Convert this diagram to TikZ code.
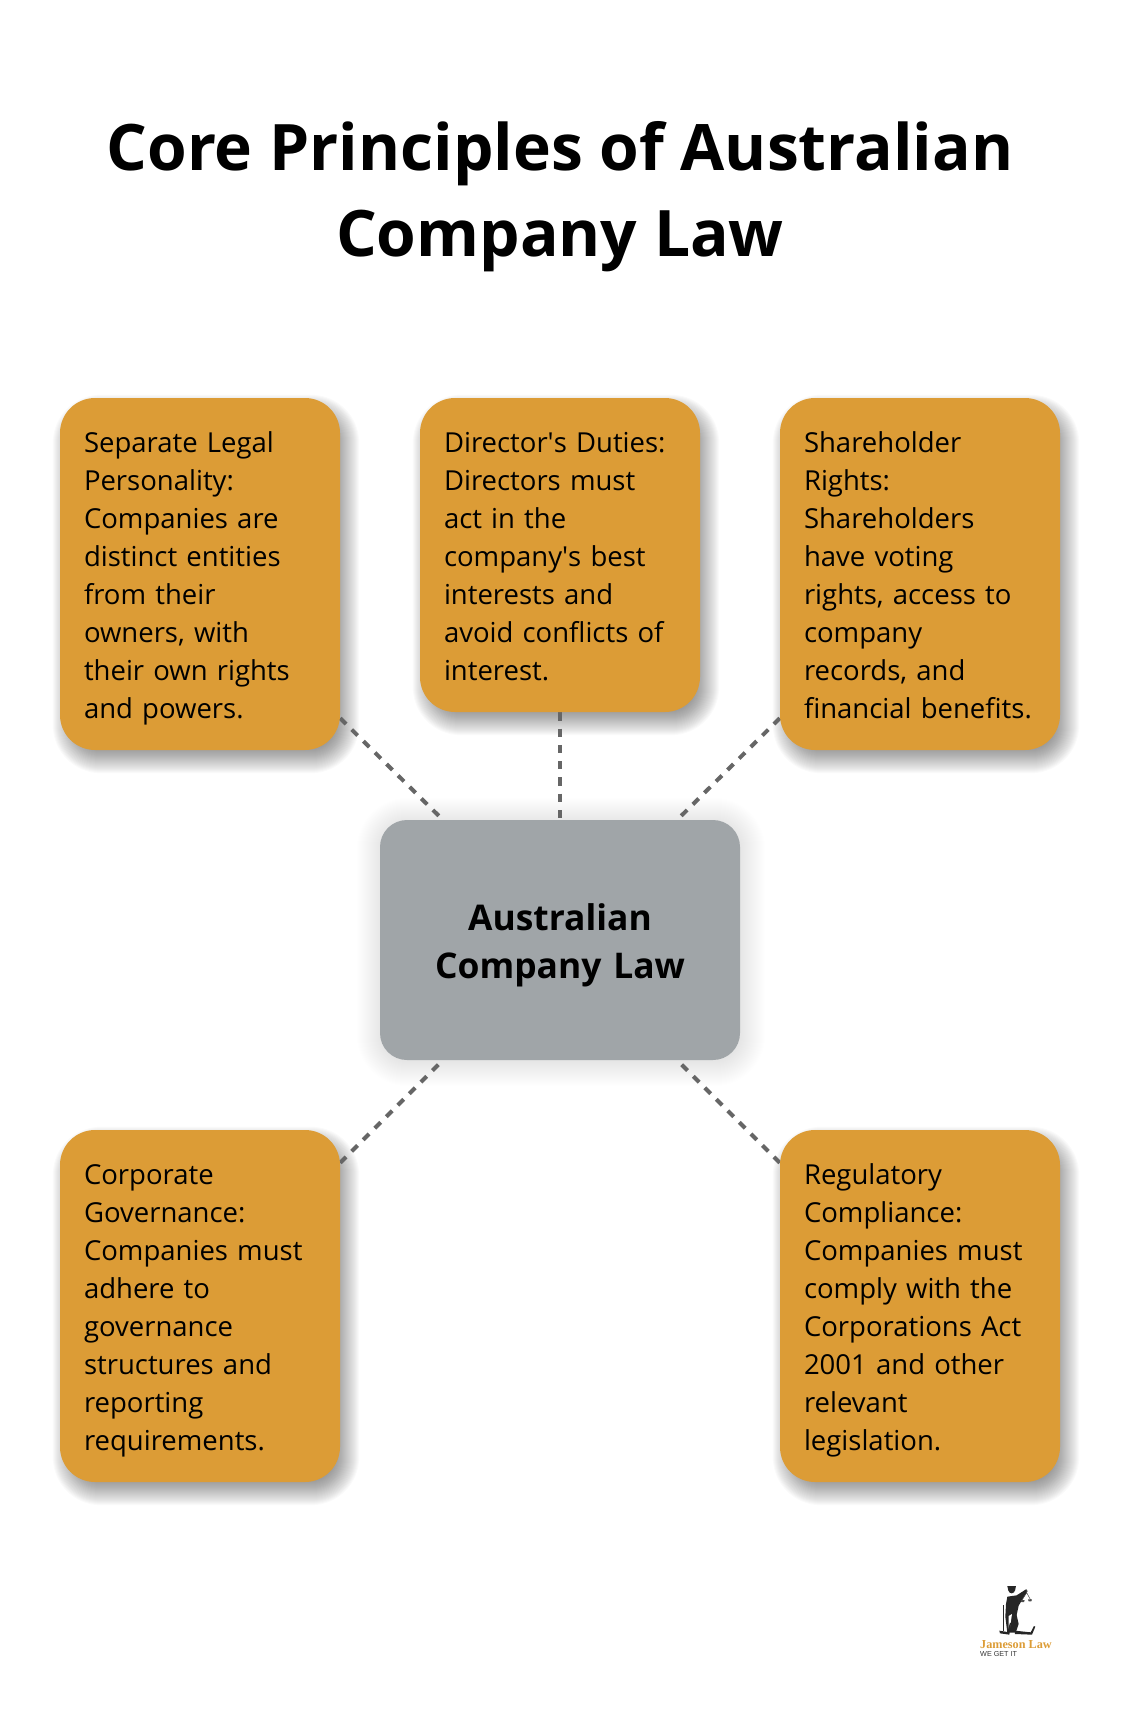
\documentclass[tikz,border=0pt]{standalone}
\usepackage{fontspec}
\setmainfont{Open Sans}
\newfontfamily\logofont{Liberation Serif}
\newfontfamily\logosans{Liberation Sans}
\usetikzlibrary{backgrounds,calc}
\definecolor{boxorange}{HTML}{DC9C36}
\definecolor{boxgrey}{HTML}{A0A5A8}
\definecolor{linkgrey}{HTML}{666666}
\newcommand{\softshadow}[6]{%
\foreach \k in {-#4,...,#4} {
\pgfmathsetmacro{\rr}{max(#5+\k,1)}
\fill [black,opacity=#6,rounded corners=\rr pt] ([shift={(#2-\k,#3-\k)}]#1.north west) rectangle ([shift={(#2+\k,#3+\k)}]#1.south east);
}}

\begin{document}
\begin{tikzpicture}[x=1pt,y=-1pt]
\tikzstyle{every node}+=[inner sep=0pt]
\tikzstyle{card}=[fill=boxorange,rounded corners=35pt,minimum width=280pt,text width=232pt,align=left,font=\fontsize{27.5}{38}\selectfont,execute at begin node={\rule[-11.4pt]{0pt}{44.8pt}},execute at end node={\strut}]
\tikzstyle{hub}=[fill=boxgrey,rounded corners=27pt,minimum width=360pt,minimum height=240pt,text width=300pt,align=center,font=\fontsize{35.4}{48}\bfseries\selectfont,execute at begin node={\rule[-14.4pt]{0pt}{56.8pt}},execute at end node={\strut}]
\tikzstyle{link}=[linkgrey,line width=4pt,dash pattern=on 8.3pt off 8pt]
\useasboundingbox (0,0) rectangle (1120,1722);

\node (title) [align=center,font=\fontsize{64.1}{86}\bfseries\selectfont] at (560,197) {Core Principles of Australian\\Company Law};

\node (hub) [hub] at (560,940) {Australian\\Company Law};
\node (legal) [card,minimum height=352pt] at (200,574) {Separate Legal\\Personality:\\Companies are\\distinct entities\\from their\\owners, with\\their own rights\\and powers.};
\node (duties) [card,minimum height=314pt] at (560,555) {Director\textquotesingle s Duties:\\Directors must\\act in the\\company\textquotesingle s best\\interests and\\avoid conflicts of\\interest.};
\node (rights) [card,minimum height=352pt] at (920,574) {Shareholder\\Rights:\\Shareholders\\have voting\\rights, access to\\company\\records, and\\financial benefits.};
\node (gov) [card,minimum height=352pt] at (200,1306) {Corporate\\Governance:\\Companies must\\adhere to\\governance\\structures and\\reporting\\requirements.};
\node (comply) [card,minimum height=352pt] at (920,1306) {Regulatory\\Compliance:\\Companies must\\comply with the\\Corporations Act\\2001 and other\\relevant\\legislation.};

\begin{pgfonlayer}{background}
\softshadow{hub}{1}{2}{24}{27}{.0045}
\softshadow{legal}{6}{10}{13}{35}{.021}
\softshadow{duties}{6}{10}{13}{35}{.021}
\softshadow{rights}{6}{10}{13}{35}{.021}
\softshadow{gov}{6}{10}{13}{35}{.021}
\softshadow{comply}{6}{10}{13}{35}{.021}
\draw [link] ([yshift=32pt]legal.south east) -- ([xshift=63pt]hub.north west);
\draw [link] (duties.south) -- (hub.north);
\draw [link] ([yshift=32pt]rights.south west) -- ([xshift=-63pt]hub.north east);
\draw [link] ([yshift=-33pt]gov.north east) -- ([xshift=63pt]hub.south west);
\draw [link] ([yshift=-33pt]comply.north west) -- ([xshift=-63pt]hub.south east);
\end{pgfonlayer}

\begin{scope}[shift={(900,1540)},x=.3333pt,y=-.3333pt]
\fill [black!85] (335,150) circle (10);
\fill [black!85] (322,138) -- (348,138) -- (345,152) -- (325,152) -- cycle;
\fill [black!85] (322,170) -- (350,166) -- (378,148) -- (383,153) -- (365,182) -- (356,197) -- (350,225) -- (356,252) -- (347,278) -- (322,278) -- (316,230) -- (318,192) -- cycle;
\fill [white] (326,228) -- (336,222) -- (330,262) -- (326,270) -- cycle;
\draw [black!85,line width=1.2pt] (310,195) -- (310,272);
\fill [black!85] (298,272) -- (322,276) -- (330,248) -- (333,250) -- (328,284) -- (300,280) -- cycle;
\fill [black!85] (345,272) -- (392,277) -- (402,258) -- (406,260) -- (396,284) -- (345,282) -- cycle;
\draw [black!70,line width=.5pt] (380,148) -- (380,158) (380,158) -- (366,180) (380,158) -- (392,180);
\fill [black!70] (362,180) -- (374,180) -- (372,186) -- (364,186) -- cycle;
\fill [black!70] (384,178) -- (396,178) -- (394,184) -- (386,184) -- cycle;
\end{scope}
\node (logoname) [anchor=base west,text=boxorange,font=\fontsize{12.2}{12}\logofont\bfseries\selectfont] at (980,1648) {Jameson Law};
\node (logotag) [anchor=base west,text=black!80,font=\fontsize{7.2}{7}\logosans\selectfont] at (980,1656) {WE GET IT};
\end{tikzpicture}
\end{document}
